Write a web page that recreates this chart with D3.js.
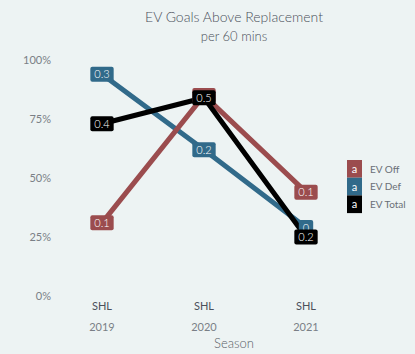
<!DOCTYPE html>
<html><head><meta charset="utf-8">
<script src="https://cdn.jsdelivr.net/npm/d3@7"></script>
<style>
html,body{margin:0;padding:0;background:#edf3f3;}
svg{display:block;font-family:Lato, "Open Sans", sans-serif;}
</style></head>
<body><svg id="c" width="415" height="354"></svg>
<script>
const seasons = ["2019","2020","2021"];
const league = ["SHL","SHL","SHL"];
const seriesNames = ["EV Off","EV Def","EV Total"];
const evOff = [31, 85, 44];
const evDef = [94, 62, 29];
const evTotal = [73, 84, 25];
const offLabels = ["0.1","0.3","0.1"];
const defLabels = ["0.3","0.2","0"];
const totalLabels = ["0.4","0.5","0.2"];
const yTicks = [0,25,50,75,100];
const colors = {"EV Off":"#9b4c4e","EV Def":"#316a8a","EV Total":"#000000"};

const series = [
  {name:"EV Off", values:evOff, labels:offLabels},
  {name:"EV Def", values:evDef, labels:defLabels},
  {name:"EV Total", values:evTotal, labels:totalLabels}
];
const svg = d3.select("#c");
const x = d3.scalePoint().domain(seasons).range([102,306]);
const y = d3.scaleLinear().domain([0,100]).range([296,60]);

svg.append("text").attr("x",234).attr("y",22).attr("text-anchor","middle")
  .attr("font-size",14).attr("fill","#4b505a").attr("font-weight",300).text("EV Goals Above Replacement");
svg.append("text").attr("x",234).attr("y",41).attr("text-anchor","middle")
  .attr("font-size",13).attr("fill","#4b505a").attr("font-weight",300).text("per 60 mins");

// y axis
const yAxis = d3.axisLeft(y).tickValues(yTicks).tickFormat(d=>d+"%").tickSize(0).tickPadding(0);
const gy = svg.append("g").attr("transform","translate(51,0)").call(yAxis);
gy.select(".domain").remove();
gy.selectAll("text").attr("font-size",11).attr("fill","#7a7f86").attr("font-family","Lato, sans-serif");

// x axis (two rows)
const gx = svg.append("g");
seasons.forEach((s,i)=>{
  gx.append("text").attr("x",x(s)).attr("y",310).attr("text-anchor","middle")
    .attr("font-size",11).attr("fill","#4b505a").text(league[i]);
  gx.append("text").attr("x",x(s)).attr("y",331).attr("text-anchor","middle")
    .attr("font-size",11).attr("fill","#7a7f86").text(s);
});
svg.append("text").attr("x",234).attr("y",348).attr("text-anchor","middle")
  .attr("font-size",13).attr("fill","#5a5f68").attr("font-weight",300).text("Season");

// lines: Def, Off, Total
const line = d3.line().x((d,i)=>x(seasons[i])).y(d=>y(d));
const lineOrder = ["EV Def","EV Off","EV Total"];
lineOrder.forEach(n=>{
  const s = series.find(v=>v.name===n);
  svg.append("path").attr("d",line(s.values)).attr("fill","none")
    .attr("stroke",colors[n]).attr("stroke-width",5).attr("stroke-linejoin","round");
});

// labels
series.forEach(s=>{
  s.values.forEach((v,i)=>{
    const g = svg.append("g").attr("transform",`translate(${x(seasons[i])},${y(v)})`);
    const t = g.append("text").attr("text-anchor","middle").attr("dy","0.36em")
      .attr("font-size",11).attr("fill","#ffffff").attr("font-weight",300).text(s.labels[i]);
    const w = Math.max(t.node().getComputedTextLength()+8, 12);
    g.insert("rect","text").attr("x",-w/2).attr("y",-7.5).attr("width",w).attr("height",15)
      .attr("rx",2).attr("fill",colors[s.name]);
  });
});

// legend
const lg = svg.append("g").attr("transform","translate(347,160)");
seriesNames.forEach((n,i)=>{
  const gy0 = i*17.7;
  lg.append("rect").attr("x",0).attr("y",gy0).attr("width",15).attr("height",17.7).attr("fill",colors[n]);
  lg.append("text").attr("x",7.5).attr("y",gy0+9).attr("dy","0.35em").attr("text-anchor","middle")
    .attr("font-size",11).attr("fill","#fff").text("a");
  lg.append("text").attr("x",23).attr("y",gy0+9).attr("dy","0.35em")
    .attr("font-size",10).attr("fill","#6a6f76").text(n);
});
</script></body></html>
